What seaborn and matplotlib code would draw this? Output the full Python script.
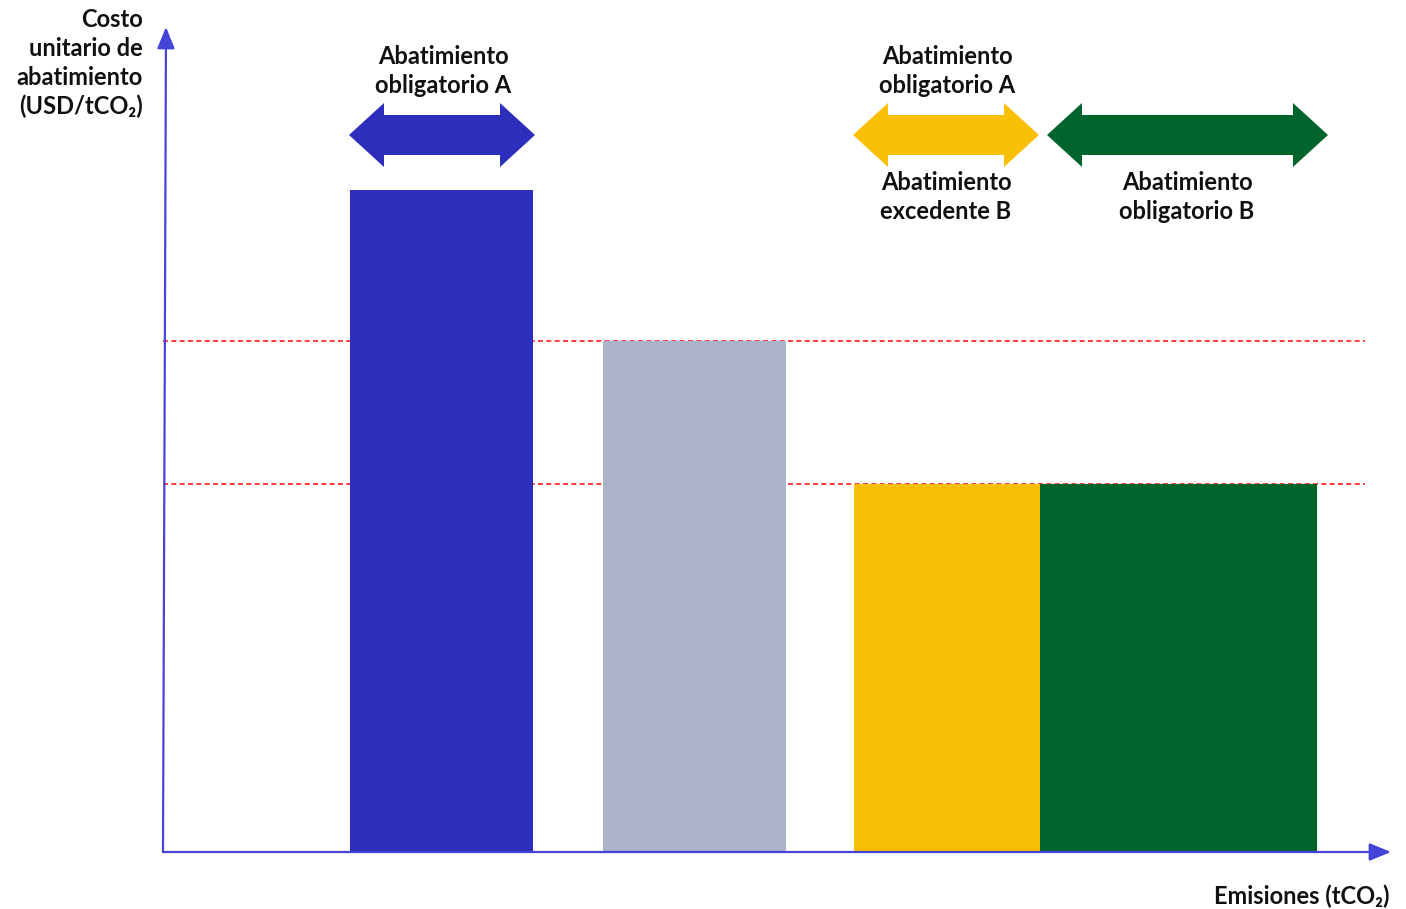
import numpy as np
import matplotlib
matplotlib.use("Agg")
import matplotlib.pyplot as plt
from matplotlib.patches import Polygon
import seaborn as sns

# bar segments (emissions axis, arbitrary units) and unit abatement cost
segments = ["Obligatorio A", "Referencia", "Excedente B", "Obligatorio B"]
seg_start = [187, 440, 691, 877]
seg_width = [183, 183, 186, 277]
seg_cost = [662, 511, 368, 368]
seg_colors = ["#2E2EBD", "#ADB4C9", "#F8C006", "#00652D"]

# price reference lines
ref_levels = [511, 368]

sns.set_theme(style="white")
plt.rcParams['font.family'] = ['Lato', 'DejaVu Sans']

W, H = 1406, 909
fig = plt.figure(figsize=(W / 100, H / 100), dpi=100)
x0_px, y0_px = 163, 852
ax = fig.add_axes([x0_px / W, (H - y0_px) / H, (1400 - x0_px) / W, (y0_px - 20) / H])
ax.set_xlim(0, 1400 - x0_px)
ax.set_ylim(0, y0_px - 20)
ax.axis("off")

axis_col = "#4444D8"

# dashed reference lines behind bars
for lvl in ref_levels:
    ax.plot([0, 1202], [lvl, lvl], color="#FF1A1A", lw=1.2, ls=(0, (3, 2)), zorder=1)

ax.bar(seg_start, seg_cost, width=seg_width, align="edge", color=seg_colors,
       edgecolor="none", zorder=2)

# axes with arrow heads
ax.annotate("", xy=(1228, 0), xytext=(0, 0),
            arrowprops=dict(arrowstyle="-|>,head_length=1.1,head_width=0.45",
                            color=axis_col, lw=1.6, shrinkA=0, shrinkB=0), zorder=3)
ax.annotate("", xy=(3, 825), xytext=(0, 0),
            arrowprops=dict(arrowstyle="-|>,head_length=1.1,head_width=0.45",
                            color=axis_col, lw=1.6, shrinkA=0, shrinkB=0), zorder=3)


def double_arrow(xa, xb, y, color, shaft=20, head=32, hlen=35):
    pts = [(xa, y), (xa + hlen, y + head), (xa + hlen, y + shaft),
           (xb - hlen, y + shaft), (xb - hlen, y + head), (xb, y),
           (xb - hlen, y - head), (xb - hlen, y - shaft), (xa + hlen, y - shaft),
           (xa + hlen, y - head)]
    ax.add_patch(Polygon(pts, closed=True, color=color, lw=0, zorder=3))


arrow_y = 717
double_arrow(seg_start[0] - 1, seg_start[0] + seg_width[0] + 2, arrow_y, seg_colors[0])
double_arrow(seg_start[2] - 1, seg_start[2] + seg_width[2] - 1, arrow_y, seg_colors[2])
double_arrow(seg_start[3] + 7, seg_start[3] + seg_width[3] + 11, arrow_y, seg_colors[3])

txt = dict(fontsize=17, fontweight="bold", color="#111111", ha="center",
           va="center", linespacing=1.35)
ax.text(280, 781, "Abatimiento\nobligatorio A", **txt)
ax.text(784, 781, "Abatimiento\nobligatorio A", **txt)
ax.text(783, 655, "Abatimiento\nexcedente B", **txt)
ax.text(1024, 655, "Abatimiento\nobligatorio B", **txt)

fig.text(143 / W, 1 - 63 / H, "Costo\nunitario de\nabatimiento\n(USD/tCO\u2082)",
         fontsize=17, fontweight="bold", color="#111111", ha="right", va="center",
         multialignment="right", linespacing=1.3)
fig.text(1390 / W, 1 - 896 / H, "Emisiones (tCO\u2082)", fontsize=17,
         fontweight="bold", color="#111111", ha="right", va="center")

fig.savefig("out.png", dpi=100, facecolor="white")
